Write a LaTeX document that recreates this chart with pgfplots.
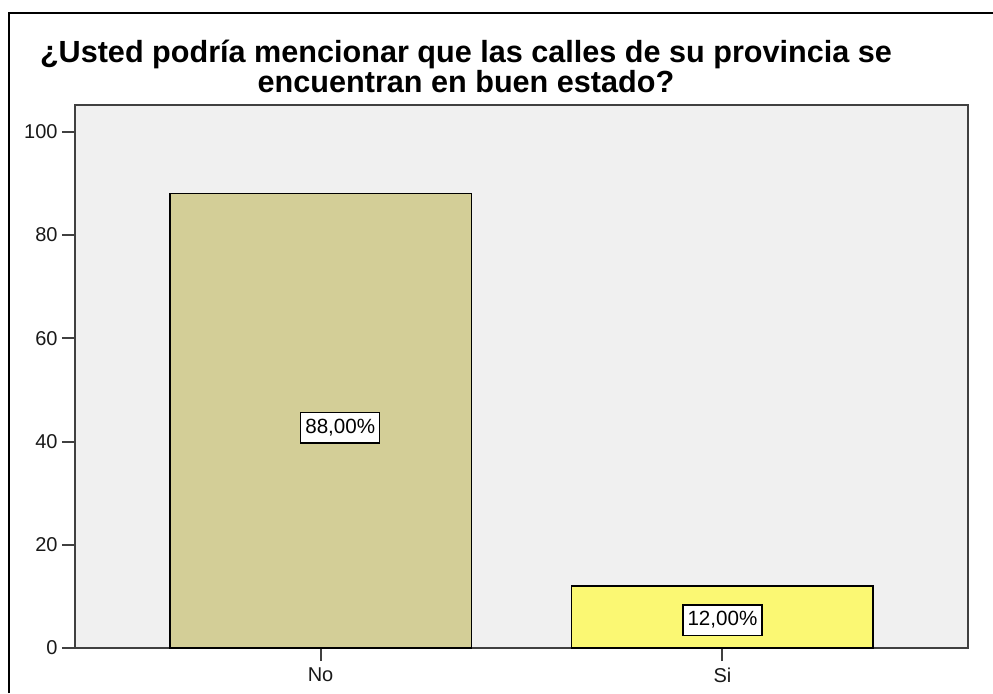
\documentclass[border=0pt]{standalone}
\usepackage{pgfplots}
\pgfplotsset{compat=1.18}
\usepackage{fontspec}
\setmainfont{Liberation Sans}
\definecolor{plotbg}{HTML}{F0F0F0}
\definecolor{barno}{HTML}{D3CE97}
\definecolor{barsi}{HTML}{FBF873}
\tikzset{pctbox/.style={draw=black, fill=white, line width=0.7pt, inner xsep=2.3pt, inner ysep=3pt, text height=7.5pt, text depth=1.7pt, font=\fontsize{10.3}{12}\selectfont}}
\begin{document}
\begin{tikzpicture}
\path[use as bounding box] (0,0) rectangle (496.5pt,346.5pt);
\draw[line width=0.8pt,black] (4.5pt,0pt) -- (4.5pt,340pt) -- (496.5pt,340pt);
\node[anchor=base,font=\fontsize{15.3}{15}\selectfont\bfseries,inner sep=0pt] at (233pt,315.5pt) {¿Usted podría mencionar que las calles de su provincia se};
\node[anchor=base,font=\fontsize{15.3}{15}\selectfont\bfseries,inner sep=0pt] at (233pt,300.5pt) {encuentran en buen estado?};
\begin{axis}[
  at={(37.5pt,22.5pt)}, anchor=south west,
  scale only axis, width=446.5pt, height=271.5pt,
  xmin=-0.611, xmax=1.611, ymin=0, ymax=105.2,
  xtick={0,1}, xticklabels={No,Si},
  ytick={0,20,40,60,80,100},
  tick align=outside, major tick length=6.5pt,
  xtick pos=bottom, ytick pos=left,
  axis line style={black!75,line width=1pt},
  tick style={black!75,line width=1pt},
  axis background/.style={fill=plotbg},
  ticklabel style={font=\fontsize{10}{12}\selectfont, text=black!90},
  yticklabel style={inner sep=2pt},
  /pgf/number format/assume math mode=true,
  every axis plot/.append style={bar shift=0pt},
]
\addplot[ybar, bar width=0.75, fill=barno, draw=black, line width=0.7pt] coordinates {(0,88)};
\addplot[ybar, bar width=0.75, fill=barsi, draw=black, line width=0.7pt] coordinates {(1,12)};
\node[pctbox] at (axis cs:0.049,42.7) {88,00\%};
\node[pctbox] at (axis cs:1,5.4) {12,00\%};
\end{axis}
\end{tikzpicture}
\end{document}
